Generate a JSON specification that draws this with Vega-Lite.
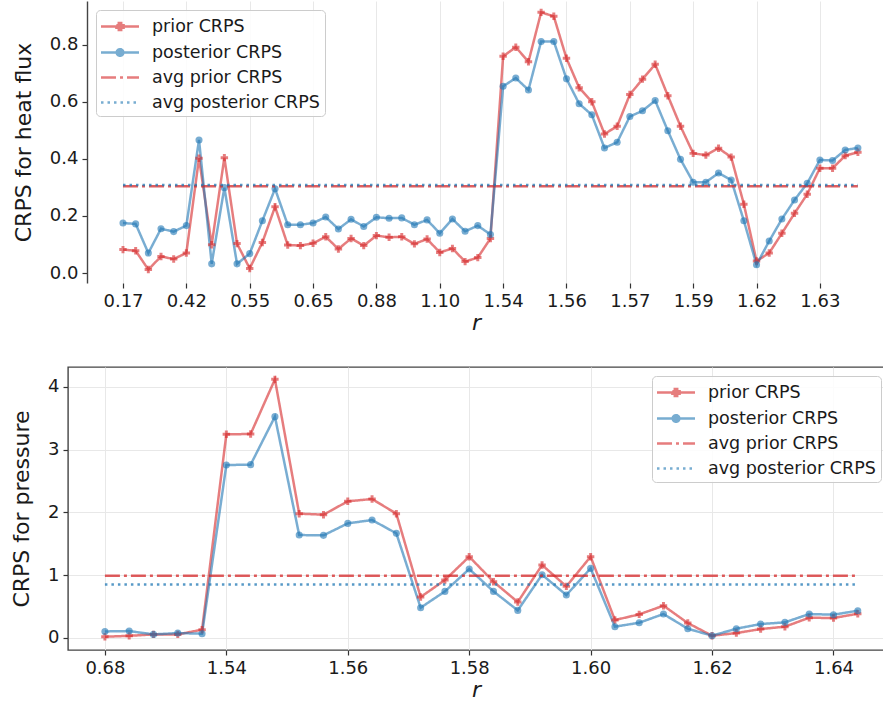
{
  "$schema": "https://vega.github.io/schema/vega-lite/v6.json",
  "padding": {"left": 9, "top": 1, "right": 0, "bottom": 0},
  "config": {
    "font": "DejaVu Sans",
    "view": {"stroke": "#444444", "strokeWidth": 1.4},
    "axis": {
      "labelFont": "DejaVu Sans", "labelFontSize": 18, "labelColor": "#1a1a1a",
      "titleFont": "DejaVu Sans", "titleFontSize": 22, "titleFontWeight": "normal", "titleColor": "#1a1a1a",
      "domain": false, "tickColor": "#333333", "tickSize": 5, "tickWidth": 1.2, "labelPadding": 4,
      "gridColor": "#e8e8e8", "gridWidth": 1
    },
    "legend": {
      "labelFont": "DejaVu Sans", "labelFontSize": 17.5, "labelColor": "#1a1a1a", "labelLimit": 400,
      "strokeColor": "#cccccc", "fillColor": "rgba(255,255,255,0.85)", "cornerRadius": 4,
      "padding": 5, "rowPadding": 5, "symbolSize": 400, "symbolStrokeWidth": 2.5, "labelOffset": 28
    }
  },
  "datasets": {
    "heat": [
      {"i": 0, "prior CRPS": 0.082, "posterior CRPS": 0.175},
      {"i": 1, "prior CRPS": 0.078, "posterior CRPS": 0.172},
      {"i": 2, "prior CRPS": 0.012, "posterior CRPS": 0.070},
      {"i": 3, "prior CRPS": 0.058, "posterior CRPS": 0.155},
      {"i": 4, "prior CRPS": 0.049, "posterior CRPS": 0.145},
      {"i": 5, "prior CRPS": 0.070, "posterior CRPS": 0.166},
      {"i": 6, "prior CRPS": 0.402, "posterior CRPS": 0.466},
      {"i": 7, "prior CRPS": 0.099, "posterior CRPS": 0.032},
      {"i": 8, "prior CRPS": 0.404, "posterior CRPS": 0.299},
      {"i": 9, "prior CRPS": 0.103, "posterior CRPS": 0.032},
      {"i": 10, "prior CRPS": 0.016, "posterior CRPS": 0.068},
      {"i": 11, "prior CRPS": 0.107, "posterior CRPS": 0.183},
      {"i": 12, "prior CRPS": 0.232, "posterior CRPS": 0.295},
      {"i": 13, "prior CRPS": 0.098, "posterior CRPS": 0.169},
      {"i": 14, "prior CRPS": 0.096, "posterior CRPS": 0.169},
      {"i": 15, "prior CRPS": 0.104, "posterior CRPS": 0.175},
      {"i": 16, "prior CRPS": 0.127, "posterior CRPS": 0.196},
      {"i": 17, "prior CRPS": 0.084, "posterior CRPS": 0.154},
      {"i": 18, "prior CRPS": 0.121, "posterior CRPS": 0.188},
      {"i": 19, "prior CRPS": 0.096, "posterior CRPS": 0.163},
      {"i": 20, "prior CRPS": 0.131, "posterior CRPS": 0.195},
      {"i": 21, "prior CRPS": 0.125, "posterior CRPS": 0.192},
      {"i": 22, "prior CRPS": 0.127, "posterior CRPS": 0.193},
      {"i": 23, "prior CRPS": 0.102, "posterior CRPS": 0.169},
      {"i": 24, "prior CRPS": 0.119, "posterior CRPS": 0.186},
      {"i": 25, "prior CRPS": 0.072, "posterior CRPS": 0.139},
      {"i": 26, "prior CRPS": 0.086, "posterior CRPS": 0.189},
      {"i": 27, "prior CRPS": 0.040, "posterior CRPS": 0.146},
      {"i": 28, "prior CRPS": 0.054, "posterior CRPS": 0.166},
      {"i": 29, "prior CRPS": 0.121, "posterior CRPS": 0.135},
      {"i": 30, "prior CRPS": 0.759, "posterior CRPS": 0.654},
      {"i": 31, "prior CRPS": 0.791, "posterior CRPS": 0.683},
      {"i": 32, "prior CRPS": 0.740, "posterior CRPS": 0.641},
      {"i": 33, "prior CRPS": 0.913, "posterior CRPS": 0.811},
      {"i": 34, "prior CRPS": 0.899, "posterior CRPS": 0.811},
      {"i": 35, "prior CRPS": 0.752, "posterior CRPS": 0.680},
      {"i": 36, "prior CRPS": 0.649, "posterior CRPS": 0.593},
      {"i": 37, "prior CRPS": 0.600, "posterior CRPS": 0.554},
      {"i": 38, "prior CRPS": 0.487, "posterior CRPS": 0.438},
      {"i": 39, "prior CRPS": 0.514, "posterior CRPS": 0.458},
      {"i": 40, "prior CRPS": 0.625, "posterior CRPS": 0.548},
      {"i": 41, "prior CRPS": 0.679, "posterior CRPS": 0.568},
      {"i": 42, "prior CRPS": 0.731, "posterior CRPS": 0.604},
      {"i": 43, "prior CRPS": 0.621, "posterior CRPS": 0.498},
      {"i": 44, "prior CRPS": 0.514, "posterior CRPS": 0.398},
      {"i": 45, "prior CRPS": 0.419, "posterior CRPS": 0.318},
      {"i": 46, "prior CRPS": 0.413, "posterior CRPS": 0.318},
      {"i": 47, "prior CRPS": 0.437, "posterior CRPS": 0.350},
      {"i": 48, "prior CRPS": 0.406, "posterior CRPS": 0.326},
      {"i": 49, "prior CRPS": 0.241, "posterior CRPS": 0.183},
      {"i": 50, "prior CRPS": 0.042, "posterior CRPS": 0.029},
      {"i": 51, "prior CRPS": 0.070, "posterior CRPS": 0.112},
      {"i": 52, "prior CRPS": 0.139, "posterior CRPS": 0.189},
      {"i": 53, "prior CRPS": 0.209, "posterior CRPS": 0.256},
      {"i": 54, "prior CRPS": 0.276, "posterior CRPS": 0.314},
      {"i": 55, "prior CRPS": 0.367, "posterior CRPS": 0.396},
      {"i": 56, "prior CRPS": 0.367, "posterior CRPS": 0.394},
      {"i": 57, "prior CRPS": 0.411, "posterior CRPS": 0.431},
      {"i": 58, "prior CRPS": 0.423, "posterior CRPS": 0.438}
    ],
    "pressure": [
      {"i": 0, "prior CRPS": 0.016, "posterior CRPS": 0.100},
      {"i": 1, "prior CRPS": 0.030, "posterior CRPS": 0.106},
      {"i": 2, "prior CRPS": 0.053, "posterior CRPS": 0.053},
      {"i": 3, "prior CRPS": 0.053, "posterior CRPS": 0.074},
      {"i": 4, "prior CRPS": 0.128, "posterior CRPS": 0.064},
      {"i": 5, "prior CRPS": 3.245, "posterior CRPS": 2.755},
      {"i": 6, "prior CRPS": 3.250, "posterior CRPS": 2.761},
      {"i": 7, "prior CRPS": 4.122, "posterior CRPS": 3.527},
      {"i": 8, "prior CRPS": 1.979, "posterior CRPS": 1.638},
      {"i": 9, "prior CRPS": 1.963, "posterior CRPS": 1.633},
      {"i": 10, "prior CRPS": 2.176, "posterior CRPS": 1.824},
      {"i": 11, "prior CRPS": 2.213, "posterior CRPS": 1.878},
      {"i": 12, "prior CRPS": 1.979, "posterior CRPS": 1.665},
      {"i": 13, "prior CRPS": 0.649, "posterior CRPS": 0.479},
      {"i": 14, "prior CRPS": 0.920, "posterior CRPS": 0.739},
      {"i": 15, "prior CRPS": 1.293, "posterior CRPS": 1.096},
      {"i": 16, "prior CRPS": 0.894, "posterior CRPS": 0.739},
      {"i": 17, "prior CRPS": 0.569, "posterior CRPS": 0.436},
      {"i": 18, "prior CRPS": 1.160, "posterior CRPS": 1.005},
      {"i": 19, "prior CRPS": 0.819, "posterior CRPS": 0.681},
      {"i": 20, "prior CRPS": 1.293, "posterior CRPS": 1.106},
      {"i": 21, "prior CRPS": 0.282, "posterior CRPS": 0.176},
      {"i": 22, "prior CRPS": 0.372, "posterior CRPS": 0.239},
      {"i": 23, "prior CRPS": 0.511, "posterior CRPS": 0.378},
      {"i": 24, "prior CRPS": 0.234, "posterior CRPS": 0.144},
      {"i": 25, "prior CRPS": 0.032, "posterior CRPS": 0.032},
      {"i": 26, "prior CRPS": 0.074, "posterior CRPS": 0.144},
      {"i": 27, "prior CRPS": 0.138, "posterior CRPS": 0.218},
      {"i": 28, "prior CRPS": 0.176, "posterior CRPS": 0.245},
      {"i": 29, "prior CRPS": 0.319, "posterior CRPS": 0.378},
      {"i": 30, "prior CRPS": 0.314, "posterior CRPS": 0.367},
      {"i": 31, "prior CRPS": 0.383, "posterior CRPS": 0.431}
    ]
  },
  "columns": 1,
  "bounds": "full",
  "spacing": 33,
  "resolve": {
    "scale": {"color": "independent", "shape": "independent", "strokeDash": "independent"},
    "legend": {"color": "independent", "shape": "independent", "strokeDash": "independent"}
  },
  "concat": [
    {
      "width": 816,
      "height": 282,
      "view": {"stroke": null},
      "data": {"name": "heat"},
      "encoding": {
        "x": {
          "field": "i", "type": "quantitative", "title": "r",
          "scale": {"domain": [-4.34, 60.06], "nice": false, "zero": false},
          "axis": {
            "values": [0, 5, 10, 15, 20, 25, 30, 35, 40, 45, 50, 55],
            "labelExpr": "['0.17','0.42','0.55','0.65','0.88','1.10','1.54','1.56','1.57','1.59','1.62','1.63'][round(datum.value / 5)]",
            "titleFontStyle": "italic", "titlePadding": 2
          }
        },
        "y": {
          "field": "crps", "type": "quantitative", "title": "CRPS for heat flux",
          "scale": {"domain": [-0.035, 0.9527], "nice": false, "zero": false},
          "axis": {
            "values": [0, 0.2, 0.4, 0.6, 0.8], "format": ".1f", "titlePadding": 14,
            "offset": -19, "grid": false, "domain": true, "domainColor": "#444444", "domainWidth": 1.4
          }
        }
      },
      "layer": [
        {
          "data": {"values": [{"g": 0}, {"g": 0.2}, {"g": 0.4}, {"g": 0.6}, {"g": 0.8}]},
          "mark": {"type": "rule", "color": "#e8e8e8", "strokeWidth": 1},
          "encoding": {
            "y": {"field": "g", "type": "quantitative", "title": "CRPS for heat flux"},
            "x": {"datum": -2.84, "type": "quantitative", "title": "r"},
            "x2": {"datum": 60.06}
          }
        },
        {
          "transform": [{"fold": ["prior CRPS", "posterior CRPS"], "as": ["series", "crps"]}],
          "mark": {"type": "line", "strokeWidth": 2.5, "opacity": 0.6},
          "encoding": {
            "color": {
              "field": "series", "type": "nominal",
              "scale": {"domain": ["prior CRPS", "posterior CRPS", "avg prior CRPS", "avg posterior CRPS"], "range": ["#d62728", "#1f77b4", "#d62728", "#1f77b4"]},
              "legend": {"title": null, "orient": "none", "legendX": 28, "legendY": 9}
            },
            "strokeDash": {
              "field": "series", "type": "nominal",
              "scale": {"domain": ["prior CRPS", "posterior CRPS", "avg prior CRPS", "avg posterior CRPS"], "range": [[1, 0], [1, 0], [15, 4, 3, 4], [2.5, 4]]},
              "legend": {"title": null, "orient": "none", "legendX": 28, "legendY": 9}
            }
          }
        },
        {
          "transform": [{"fold": ["prior CRPS", "posterior CRPS"], "as": ["series", "crps"]}, {"filter": "false"}],
          "mark": {"type": "point", "filled": true, "opacity": 0.6},
          "encoding": {
            "color": {"field": "series", "type": "nominal", "legend": {"title": null, "orient": "none", "legendX": 28, "legendY": 9}},
            "shape": {
              "field": "series", "type": "nominal",
              "scale": {"domain": ["prior CRPS", "posterior CRPS", "avg prior CRPS", "avg posterior CRPS"], "range": ["M-1.15,0L2.65,0M0.63,-0.36L0.87,-0.36L0.87,-0.12L1.11,-0.12L1.11,0.12L0.87,0.12L0.87,0.36L0.63,0.36L0.63,0.12L0.39,0.12L0.39,-0.12L0.63,-0.12Z", "M-1.15,0L2.65,0M1.08,0A0.33,0.33,0,1,1,0.42,0A0.33,0.33,0,1,1,1.08,0Z", "M-1.15,0L2.65,0", "M-1.15,0L2.65,0"]},
              "legend": {"title": null, "orient": "none", "legendX": 28, "legendY": 9}
            }
          }
        },
        {
          "mark": {"type": "point", "shape": "cross", "filled": true, "size": 55, "opacity": 0.6, "color": "#d62728"},
          "encoding": {"y": {"field": "prior CRPS", "type": "quantitative", "title": "CRPS for heat flux"}}
        },
        {
          "mark": {"type": "point", "shape": "circle", "filled": true, "size": 50, "opacity": 0.6, "color": "#1f77b4"},
          "encoding": {"y": {"field": "posterior CRPS", "type": "quantitative", "title": "CRPS for heat flux"}}
        },
        {
          "transform": [{"aggregate": [{"op": "mean", "field": "prior CRPS", "as": "avg_prior"}, {"op": "min", "field": "i", "as": "i"}, {"op": "max", "field": "i", "as": "i1"}]}],
          "mark": {"type": "rule", "strokeWidth": 2.5, "strokeDash": [15, 4, 3, 4], "opacity": 0.75, "color": "#d62728"},
          "encoding": {
            "y": {"field": "avg_prior", "type": "quantitative", "title": "CRPS for heat flux"},
            "x2": {"field": "i1"}
          }
        },
        {
          "transform": [{"aggregate": [{"op": "mean", "field": "posterior CRPS", "as": "avg_post"}, {"op": "min", "field": "i", "as": "i"}, {"op": "max", "field": "i", "as": "i1"}]}],
          "mark": {"type": "rule", "strokeWidth": 2.5, "strokeDash": [2.5, 4], "opacity": 0.75, "color": "#1f77b4"},
          "encoding": {
            "y": {"field": "avg_post", "type": "quantitative", "title": "CRPS for heat flux"},
            "x2": {"field": "i1"}
          }
        },
        {
          "data": {"values": [{"edge": -0.035}, {"edge": 0.9527}]},
          "mark": {"type": "rule", "color": "#444444", "strokeWidth": 1.4},
          "encoding": {
            "y": {"field": "edge", "type": "quantitative", "title": "CRPS for heat flux"},
            "x": {"datum": -2.84, "type": "quantitative", "title": "r"},
            "x2": {"datum": 60.06}
          }
        }
      ]
    },
    {
      "width": 816,
      "height": 283,
      "data": {"name": "pressure"},
      "encoding": {
        "x": {
          "field": "i", "type": "quantitative", "title": "r",
          "scale": {"domain": [-1.52, 32.08], "nice": false, "zero": false},
          "axis": {
            "values": [0, 5, 10, 15, 20, 25, 30],
            "labelExpr": "['0.68','1.54','1.56','1.58','1.60','1.62','1.64'][round(datum.value / 5)]",
            "titleFontStyle": "italic", "titlePadding": 2
          }
        },
        "y": {
          "field": "crps", "type": "quantitative", "title": "CRPS for pressure",
          "scale": {"domain": [-0.196, 4.319], "nice": false, "zero": false},
          "axis": {"values": [0, 1, 2, 3, 4], "format": "d", "titlePadding": 14}
        }
      },
      "layer": [
        {
          "transform": [{"fold": ["prior CRPS", "posterior CRPS"], "as": ["series", "crps"]}],
          "mark": {"type": "line", "strokeWidth": 2.5, "opacity": 0.6},
          "encoding": {
            "color": {
              "field": "series", "type": "nominal",
              "scale": {"domain": ["prior CRPS", "posterior CRPS", "avg prior CRPS", "avg posterior CRPS"], "range": ["#d62728", "#1f77b4", "#d62728", "#1f77b4"]},
              "legend": {"title": null, "orient": "none", "legendX": 584, "legendY": 9}
            },
            "strokeDash": {
              "field": "series", "type": "nominal",
              "scale": {"domain": ["prior CRPS", "posterior CRPS", "avg prior CRPS", "avg posterior CRPS"], "range": [[1, 0], [1, 0], [15, 4, 3, 4], [2.5, 4]]},
              "legend": {"title": null, "orient": "none", "legendX": 584, "legendY": 9}
            }
          }
        },
        {
          "transform": [{"fold": ["prior CRPS", "posterior CRPS"], "as": ["series", "crps"]}, {"filter": "false"}],
          "mark": {"type": "point", "filled": true, "opacity": 0.6},
          "encoding": {
            "color": {"field": "series", "type": "nominal", "legend": {"title": null, "orient": "none", "legendX": 584, "legendY": 9}},
            "shape": {
              "field": "series", "type": "nominal",
              "scale": {"domain": ["prior CRPS", "posterior CRPS", "avg prior CRPS", "avg posterior CRPS"], "range": ["M-1.15,0L2.65,0M0.63,-0.36L0.87,-0.36L0.87,-0.12L1.11,-0.12L1.11,0.12L0.87,0.12L0.87,0.36L0.63,0.36L0.63,0.12L0.39,0.12L0.39,-0.12L0.63,-0.12Z", "M-1.15,0L2.65,0M1.08,0A0.33,0.33,0,1,1,0.42,0A0.33,0.33,0,1,1,1.08,0Z", "M-1.15,0L2.65,0", "M-1.15,0L2.65,0"]},
              "legend": {"title": null, "orient": "none", "legendX": 584, "legendY": 9}
            }
          }
        },
        {
          "mark": {"type": "point", "shape": "cross", "filled": true, "size": 55, "opacity": 0.6, "color": "#d62728"},
          "encoding": {"y": {"field": "prior CRPS", "type": "quantitative", "title": "CRPS for pressure"}}
        },
        {
          "mark": {"type": "point", "shape": "circle", "filled": true, "size": 50, "opacity": 0.6, "color": "#1f77b4"},
          "encoding": {"y": {"field": "posterior CRPS", "type": "quantitative", "title": "CRPS for pressure"}}
        },
        {
          "transform": [{"aggregate": [{"op": "mean", "field": "prior CRPS", "as": "avg_prior"}, {"op": "min", "field": "i", "as": "i"}, {"op": "max", "field": "i", "as": "i1"}]}],
          "mark": {"type": "rule", "strokeWidth": 2.5, "strokeDash": [15, 4, 3, 4], "opacity": 0.75, "color": "#d62728"},
          "encoding": {
            "y": {"field": "avg_prior", "type": "quantitative", "title": "CRPS for pressure"},
            "x2": {"field": "i1"}
          }
        },
        {
          "transform": [{"aggregate": [{"op": "mean", "field": "posterior CRPS", "as": "avg_post"}, {"op": "min", "field": "i", "as": "i"}, {"op": "max", "field": "i", "as": "i1"}]}],
          "mark": {"type": "rule", "strokeWidth": 2.5, "strokeDash": [2.5, 4], "opacity": 0.75, "color": "#1f77b4"},
          "encoding": {
            "y": {"field": "avg_post", "type": "quantitative", "title": "CRPS for pressure"},
            "x2": {"field": "i1"}
          }
        }
      ]
    }
  ]
}
